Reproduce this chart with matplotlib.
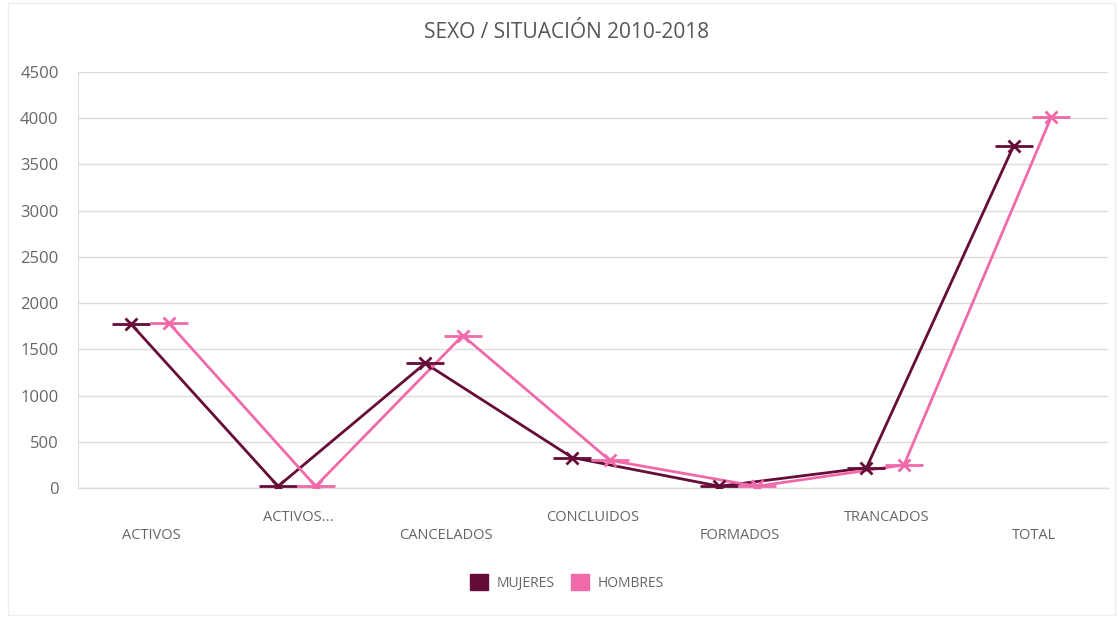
import numpy as np
import matplotlib.pyplot as plt
from matplotlib.patches import Rectangle
from matplotlib.transforms import blended_transform_factory, offset_copy

categorias = ["ACTIVOS", "ACTIVOS...", "CANCELADOS", "CONCLUIDOS", "FORMADOS", "TRANCADOS", "TOTAL"]
mujeres = [1775, 20, 1350, 330, 20, 220, 3700]
hombres = [1790, 20, 1650, 300, 20, 250, 4010]

col_muj = "#650c38"
col_hom = "#f06aaa"
gris = "#666666"

plt.rcParams['font.family'] = ['Open Sans', 'DejaVu Sans']

fig = plt.figure(figsize=(11.18, 6.21), dpi=100)
ax = fig.add_axes([0.0698, 0.214, 0.921, 0.670])

# marco exterior tenue
fig.patches.append(Rectangle((0.007, 0.01), 0.99, 0.985, transform=fig.transFigure,
                             fill=False, edgecolor="#eeeeee", linewidth=1))

x = np.arange(len(categorias))
for vals, col, off in [(mujeres, col_muj, -0.14), (hombres, col_hom, 0.115)]:
    xs = x + off
    ax.plot(xs, vals, color=col, linewidth=2, zorder=3)
    ax.plot(xs, vals, linestyle="none", marker="x", markersize=9, markeredgewidth=2,
            color=col, zorder=4)
    ax.plot(xs, vals, linestyle="none", marker="_", markersize=27, markeredgewidth=2,
            color=col, zorder=4)

ax.set_xlim(-0.5, len(categorias) - 0.5)
ax.set_ylim(0, 4500)
ax.set_yticks(np.arange(0, 4501, 500))
ax.tick_params(axis="y", length=0, pad=14, labelsize=12, labelcolor=gris)
ax.set_xticks([])
ax.grid(axis="y", color="#dddddd", linewidth=1)
ax.axhline(0, color="#dddddd", linewidth=1, zorder=1, clip_on=False)
ax.set_axisbelow(True)
for s in ["top", "right", "bottom"]:
    ax.spines[s].set_visible(False)
ax.spines["left"].set_color("#dddddd")

# etiquetas escalonadas
trans = blended_transform_factory(ax.transData, ax.transAxes)
for i, lab in enumerate(categorias):
    dy = -47 if i % 2 == 0 else -29
    t = offset_copy(trans, fig=fig, x=0, y=dy * 0.72, units="points")
    ax.text(i, 0, lab, transform=t, ha="center", va="center", fontsize=10.5, color=gris)

fig.text(0.507, 0.947, "SEXO / SITUACIÓN 2010-2018", ha="center", va="center",
         fontsize=15, color="#555555")

h1 = Rectangle((0, 0), 1, 1, color=col_muj)
h2 = Rectangle((0, 0), 1, 1, color=col_hom)
fig.legend([h1, h2], ["MUJERES", "HOMBRES"], loc="center", bbox_to_anchor=(0.507, 0.062),
           ncol=2, frameon=False, fontsize=10, labelcolor=gris, handlelength=1.3,
           handleheight=1.3, columnspacing=1.2, handletextpad=0.6)

fig.savefig("out.png", dpi=100)
